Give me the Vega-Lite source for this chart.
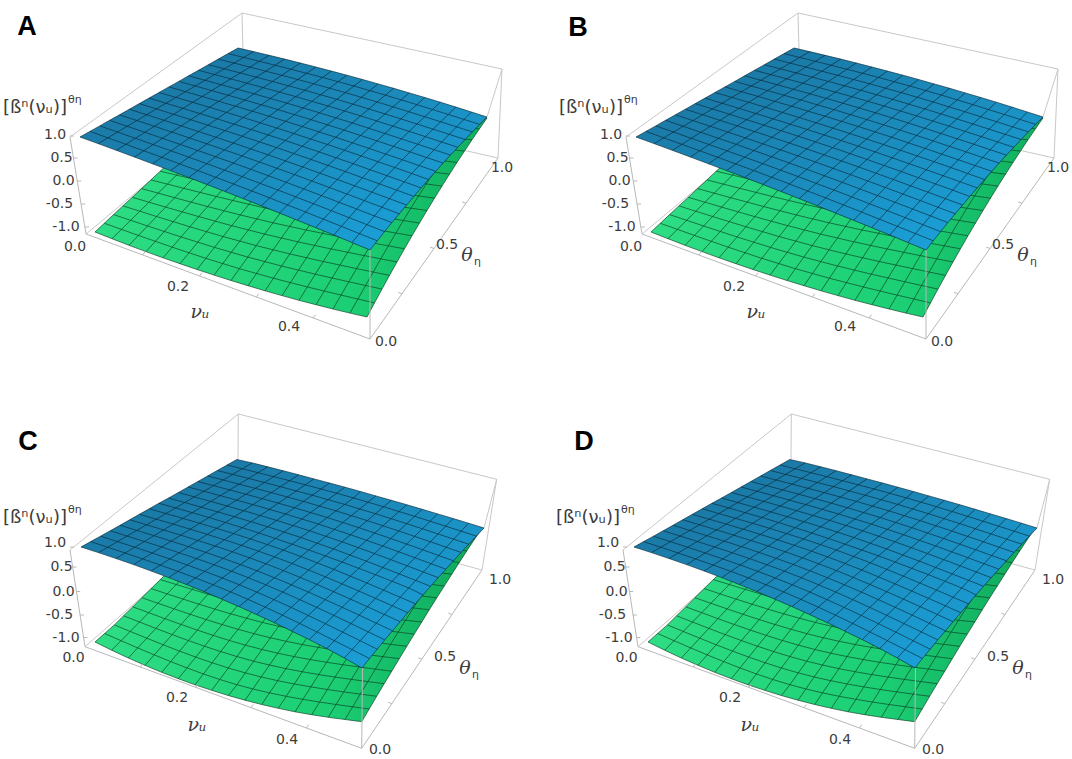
{
"$schema": "https://vega.github.io/schema/vega-lite/v6.json",
"padding": 0,
"spacing": 0,
"columns": 2,
"background": "#ffffff",
"config": {"view": {"stroke": null}},
"datasets": {
"blueAB": [
{"i":0,"j":0,"k":0,"x":80,"y":137},{"i":1,"j":0,"k":1,"x":98.1,"y":143.6},{"i":2,"j":0,"k":2,"x":116.3,"y":150.3},{"i":3,"j":0,"k":3,"x":134.4,"y":157},{"i":4,"j":0,"k":4,"x":152.5,"y":163.8},{"i":5,"j":0,"k":5,"x":170.6,"y":170.6},{"i":6,"j":0,"k":6,"x":188.8,"y":177.5},{"i":7,"j":0,"k":7,"x":206.9,"y":184.5},{"i":8,"j":0,"k":8,"x":225,"y":191.5},{"i":9,"j":0,"k":9,"x":243.1,"y":198.6},{"i":10,"j":0,"k":10,"x":261.3,"y":205.8},{"i":11,"j":0,"k":11,"x":279.4,"y":213},{"i":12,"j":0,"k":12,"x":297.5,"y":220.3},{"i":13,"j":0,"k":13,"x":315.6,"y":227.6},{"i":14,"j":0,"k":14,"x":333.8,"y":235},{"i":15,"j":0,"k":15,"x":351.9,"y":242.5},{"i":16,"j":0,"k":16,"x":370,"y":250},
{"i":16,"j":1,"k":17,"x":377.3,"y":240.8},{"i":16,"j":2,"k":18,"x":384.6,"y":231.6},{"i":16,"j":3,"k":19,"x":391.9,"y":222.6},{"i":16,"j":4,"k":20,"x":399.3,"y":213.8},{"i":16,"j":5,"k":21,"x":406.6,"y":205},{"i":16,"j":6,"k":22,"x":413.9,"y":196.4},{"i":16,"j":7,"k":23,"x":421.2,"y":187.9},{"i":16,"j":8,"k":24,"x":428.5,"y":179.5},{"i":16,"j":9,"k":25,"x":435.8,"y":171.3},{"i":16,"j":10,"k":26,"x":443.1,"y":163.1},{"i":16,"j":11,"k":27,"x":450.4,"y":155.1},{"i":16,"j":12,"k":28,"x":457.8,"y":147.3},{"i":16,"j":13,"k":29,"x":465.1,"y":139.5},{"i":16,"j":14,"k":30,"x":472.4,"y":131.9},{"i":16,"j":15,"k":31,"x":479.7,"y":124.4},{"i":16,"j":16,"k":32,"x":487,"y":117},
{"i":15,"j":16,"k":33,"x":471.4,"y":112},{"i":14,"j":16,"k":34,"x":455.9,"y":107.1},{"i":13,"j":16,"k":35,"x":440.3,"y":102.2},{"i":12,"j":16,"k":36,"x":424.8,"y":97.5},{"i":11,"j":16,"k":37,"x":409.2,"y":92.9},{"i":10,"j":16,"k":38,"x":393.6,"y":88.3},{"i":9,"j":16,"k":39,"x":378.1,"y":83.9},{"i":8,"j":16,"k":40,"x":362.5,"y":79.5},{"i":7,"j":16,"k":41,"x":346.9,"y":75.2},{"i":6,"j":16,"k":42,"x":331.4,"y":71.1},{"i":5,"j":16,"k":43,"x":315.8,"y":67},{"i":4,"j":16,"k":44,"x":300.3,"y":63},{"i":3,"j":16,"k":45,"x":284.7,"y":59.1},{"i":2,"j":16,"k":46,"x":269.1,"y":55.3},{"i":1,"j":16,"k":47,"x":253.6,"y":51.6},{"i":0,"j":16,"k":48,"x":238,"y":48},
{"i":0,"j":15,"k":49,"x":228.1,"y":53.6},{"i":0,"j":14,"k":50,"x":218.3,"y":59.1},{"i":0,"j":13,"k":51,"x":208.4,"y":64.7},{"i":0,"j":12,"k":52,"x":198.5,"y":70.3},{"i":0,"j":11,"k":53,"x":188.6,"y":75.8},{"i":0,"j":10,"k":54,"x":178.8,"y":81.4},{"i":0,"j":9,"k":55,"x":168.9,"y":86.9},{"i":0,"j":8,"k":56,"x":159,"y":92.5},{"i":0,"j":7,"k":57,"x":149.1,"y":98.1},{"i":0,"j":6,"k":58,"x":139.3,"y":103.6},{"i":0,"j":5,"k":59,"x":129.4,"y":109.2},{"i":0,"j":4,"k":60,"x":119.5,"y":114.8},{"i":0,"j":3,"k":61,"x":109.6,"y":120.3},{"i":0,"j":2,"k":62,"x":99.8,"y":125.9},{"i":0,"j":1,"k":63,"x":89.9,"y":131.4},
{"i":1,"j":8,"x":175.8,"y":97.4},{"i":2,"j":8,"x":192.7,"y":102.3},{"i":3,"j":8,"x":209.5,"y":107.3},{"i":4,"j":8,"x":226.4,"y":112.4},{"i":5,"j":8,"x":243.2,"y":117.5},{"i":6,"j":8,"x":260.1,"y":122.8},{"i":7,"j":8,"x":276.9,"y":128.1},{"i":8,"j":8,"x":293.8,"y":133.5},{"i":9,"j":8,"x":310.6,"y":139},{"i":10,"j":8,"x":327.4,"y":144.5},{"i":11,"j":8,"x":344.3,"y":150.2},{"i":12,"j":8,"x":361.1,"y":155.9},{"i":13,"j":8,"x":378,"y":161.7},{"i":14,"j":8,"x":394.8,"y":167.5},{"i":15,"j":8,"x":411.7,"y":173.5},
{"i":8,"j":1,"x":233.6,"y":184},{"i":8,"j":2,"x":242.2,"y":176.6},{"i":8,"j":3,"x":250.8,"y":169.3},{"i":8,"j":4,"x":259.4,"y":162},{"i":8,"j":5,"x":268,"y":154.8},{"i":8,"j":6,"x":276.6,"y":147.6},{"i":8,"j":7,"x":285.2,"y":140.5},{"i":8,"j":9,"x":302.3,"y":126.5},{"i":8,"j":10,"x":310.9,"y":119.6},{"i":8,"j":11,"x":319.5,"y":112.8},{"i":8,"j":12,"x":328.1,"y":106},{"i":8,"j":13,"x":336.7,"y":99.3},{"i":8,"j":14,"x":345.3,"y":92.6},{"i":8,"j":15,"x":353.9,"y":86}
],
"greenAB": [
{"i":0,"j":0,"k":0,"x":95,"y":232},{"i":1,"j":0,"k":1,"x":112,"y":238.7},{"i":2,"j":0,"k":2,"x":129,"y":245.3},{"i":3,"j":0,"k":3,"x":146,"y":251.6},{"i":4,"j":0,"k":4,"x":163,"y":257.8},{"i":5,"j":0,"k":5,"x":180,"y":263.7},{"i":6,"j":0,"k":6,"x":197,"y":269.5},{"i":7,"j":0,"k":7,"x":214,"y":275.1},{"i":8,"j":0,"k":8,"x":231,"y":280.5},{"i":9,"j":0,"k":9,"x":248,"y":285.7},{"i":10,"j":0,"k":10,"x":265,"y":290.8},{"i":11,"j":0,"k":11,"x":282,"y":295.6},{"i":12,"j":0,"k":12,"x":299,"y":300.3},{"i":13,"j":0,"k":13,"x":316,"y":304.7},{"i":14,"j":0,"k":14,"x":333,"y":309},{"i":15,"j":0,"k":15,"x":350,"y":313.1},{"i":16,"j":0,"k":16,"x":367,"y":317},
{"i":16,"j":1,"k":17,"x":374.5,"y":302.9},{"i":16,"j":2,"k":18,"x":382,"y":289.1},{"i":16,"j":3,"k":19,"x":389.5,"y":275.4},{"i":16,"j":4,"k":20,"x":397,"y":262},{"i":16,"j":5,"k":21,"x":404.5,"y":248.8},{"i":16,"j":6,"k":22,"x":412,"y":235.8},{"i":16,"j":7,"k":23,"x":419.5,"y":223.1},{"i":16,"j":8,"k":24,"x":427,"y":210.5},{"i":16,"j":9,"k":25,"x":434.5,"y":198.2},{"i":16,"j":10,"k":26,"x":442,"y":186.1},{"i":16,"j":11,"k":27,"x":449.5,"y":174.2},{"i":16,"j":12,"k":28,"x":457,"y":162.5},{"i":16,"j":13,"k":29,"x":464.5,"y":151.1},{"i":16,"j":14,"k":30,"x":472,"y":139.8},{"i":16,"j":15,"k":31,"x":479.5,"y":128.8},{"i":16,"j":16,"k":32,"x":487,"y":118},
{"i":15,"j":16,"k":33,"x":471.8,"y":116.4},{"i":14,"j":16,"k":34,"x":456.6,"y":114.9},{"i":13,"j":16,"k":35,"x":441.4,"y":113.3},{"i":12,"j":16,"k":36,"x":426.3,"y":111.8},{"i":11,"j":16,"k":37,"x":411.1,"y":110.2},{"i":10,"j":16,"k":38,"x":395.9,"y":108.6},{"i":9,"j":16,"k":39,"x":380.7,"y":107.1},{"i":8,"j":16,"k":40,"x":365.5,"y":105.5},{"i":7,"j":16,"k":41,"x":350.3,"y":103.9},{"i":6,"j":16,"k":42,"x":335.1,"y":102.4},{"i":5,"j":16,"k":43,"x":319.9,"y":100.8},{"i":4,"j":16,"k":44,"x":304.8,"y":99.3},{"i":3,"j":16,"k":45,"x":289.6,"y":97.7},{"i":2,"j":16,"k":46,"x":274.4,"y":96.1},{"i":1,"j":16,"k":47,"x":259.2,"y":94.6},{"i":0,"j":16,"k":48,"x":244,"y":93},
{"i":0,"j":15,"k":49,"x":234.7,"y":101.7},{"i":0,"j":14,"k":50,"x":225.4,"y":110.4},{"i":0,"j":13,"k":51,"x":216.1,"y":119.1},{"i":0,"j":12,"k":52,"x":206.8,"y":127.8},{"i":0,"j":11,"k":53,"x":197.4,"y":136.4},{"i":0,"j":10,"k":54,"x":188.1,"y":145.1},{"i":0,"j":9,"k":55,"x":178.8,"y":153.8},{"i":0,"j":8,"k":56,"x":169.5,"y":162.5},{"i":0,"j":7,"k":57,"x":160.2,"y":171.2},{"i":0,"j":6,"k":58,"x":150.9,"y":179.9},{"i":0,"j":5,"k":59,"x":141.6,"y":188.6},{"i":0,"j":4,"k":60,"x":132.3,"y":197.3},{"i":0,"j":3,"k":61,"x":122.9,"y":205.9},{"i":0,"j":2,"k":62,"x":113.6,"y":214.6},{"i":0,"j":1,"k":63,"x":104.3,"y":223.3},
{"i":1,"j":8,"x":185.6,"y":166.2},{"i":2,"j":8,"x":201.7,"y":169.8},{"i":3,"j":8,"x":217.8,"y":173.3},{"i":4,"j":8,"x":233.9,"y":176.8},{"i":5,"j":8,"x":250,"y":180.1},{"i":6,"j":8,"x":266.1,"y":183.3},{"i":7,"j":8,"x":282.2,"y":186.5},{"i":8,"j":8,"x":298.3,"y":189.5},{"i":9,"j":8,"x":314.3,"y":192.5},{"i":10,"j":8,"x":330.4,"y":195.3},{"i":11,"j":8,"x":346.5,"y":198.1},{"i":12,"j":8,"x":362.6,"y":200.8},{"i":13,"j":8,"x":378.7,"y":203.3},{"i":14,"j":8,"x":394.8,"y":205.8},{"i":15,"j":8,"x":410.9,"y":208.2},
{"i":8,"j":1,"x":239.4,"y":268.7},{"i":8,"j":2,"x":247.8,"y":257.1},{"i":8,"j":3,"x":256.2,"y":245.6},{"i":8,"j":4,"x":264.6,"y":234.1},{"i":8,"j":5,"x":273,"y":222.8},{"i":8,"j":6,"x":281.4,"y":211.6},{"i":8,"j":7,"x":289.8,"y":200.5},{"i":8,"j":9,"x":306.7,"y":178.6},{"i":8,"j":10,"x":315.1,"y":167.8},{"i":8,"j":11,"x":323.5,"y":157.2},{"i":8,"j":12,"x":331.9,"y":146.6},{"i":8,"j":13,"x":340.3,"y":136.2},{"i":8,"j":14,"x":348.7,"y":125.8},{"i":8,"j":15,"x":357.1,"y":115.6}
],
"blueCD": [
{"i":0,"j":0,"k":0,"x":81,"y":167},{"i":1,"j":0,"k":1,"x":98.5,"y":172.6},{"i":2,"j":0,"k":2,"x":116,"y":178.5},{"i":3,"j":0,"k":3,"x":133.6,"y":184.6},{"i":4,"j":0,"k":4,"x":151.2,"y":191},{"i":5,"j":0,"k":5,"x":168.7,"y":197.6},{"i":6,"j":0,"k":6,"x":186.3,"y":204.5},{"i":7,"j":0,"k":7,"x":203.9,"y":211.6},{"i":8,"j":0,"k":8,"x":221.4,"y":219},{"i":9,"j":0,"k":9,"x":239,"y":226.6},{"i":10,"j":0,"k":10,"x":256.5,"y":234.5},{"i":11,"j":0,"k":11,"x":274.1,"y":242.6},{"i":12,"j":0,"k":12,"x":291.6,"y":251},{"i":13,"j":0,"k":13,"x":309.2,"y":259.6},{"i":14,"j":0,"k":14,"x":326.8,"y":268.5},{"i":15,"j":0,"k":15,"x":344.3,"y":278},{"i":16,"j":0,"k":16,"x":362,"y":288},
{"i":16,"j":1,"k":17,"x":369.5,"y":278.5},{"i":16,"j":2,"k":18,"x":377.2,"y":269.2},{"i":16,"j":3,"k":19,"x":384.8,"y":259.9},{"i":16,"j":4,"k":20,"x":392.5,"y":250.8},{"i":16,"j":5,"k":21,"x":400.1,"y":241.7},{"i":16,"j":6,"k":22,"x":407.8,"y":232.7},{"i":16,"j":7,"k":23,"x":415.4,"y":223.8},{"i":16,"j":8,"k":24,"x":423,"y":215},{"i":16,"j":9,"k":25,"x":430.6,"y":206.3},{"i":16,"j":10,"k":26,"x":438.2,"y":197.7},{"i":16,"j":11,"k":27,"x":445.9,"y":189.2},{"i":16,"j":12,"k":28,"x":453.5,"y":180.8},{"i":16,"j":13,"k":29,"x":461.1,"y":172.4},{"i":16,"j":14,"k":30,"x":468.8,"y":164.2},{"i":16,"j":15,"k":31,"x":476.4,"y":156.1},{"i":16,"j":16,"k":32,"x":484,"y":148},
{"i":15,"j":16,"k":33,"x":468.5,"y":143.2},{"i":14,"j":16,"k":34,"x":453.1,"y":138.5},{"i":13,"j":16,"k":35,"x":437.6,"y":133.9},{"i":12,"j":16,"k":36,"x":422.2,"y":129.3},{"i":11,"j":16,"k":37,"x":406.7,"y":124.7},{"i":10,"j":16,"k":38,"x":391.3,"y":120.3},{"i":9,"j":16,"k":39,"x":375.8,"y":115.9},{"i":8,"j":16,"k":40,"x":360.4,"y":111.5},{"i":7,"j":16,"k":41,"x":344.9,"y":107.2},{"i":6,"j":16,"k":42,"x":329.5,"y":103},{"i":5,"j":16,"k":43,"x":314,"y":98.9},{"i":4,"j":16,"k":44,"x":298.6,"y":94.8},{"i":3,"j":16,"k":45,"x":283.1,"y":90.7},{"i":2,"j":16,"k":46,"x":267.7,"y":86.8},{"i":1,"j":16,"k":47,"x":252.2,"y":82.9},{"i":0,"j":16,"k":48,"x":236.8,"y":79.5},
{"i":0,"j":15,"k":49,"x":227.1,"y":85},{"i":0,"j":14,"k":50,"x":217.3,"y":90.5},{"i":0,"j":13,"k":51,"x":207.6,"y":96},{"i":0,"j":12,"k":52,"x":197.9,"y":101.5},{"i":0,"j":11,"k":53,"x":188.1,"y":107},{"i":0,"j":10,"k":54,"x":178.4,"y":112.5},{"i":0,"j":9,"k":55,"x":168.6,"y":118},{"i":0,"j":8,"k":56,"x":158.9,"y":123.3},{"i":0,"j":7,"k":57,"x":149.2,"y":128.8},{"i":0,"j":6,"k":58,"x":139.4,"y":134.3},{"i":0,"j":5,"k":59,"x":129.7,"y":139.8},{"i":0,"j":4,"k":60,"x":120,"y":145.3},{"i":0,"j":3,"k":61,"x":110.2,"y":150.8},{"i":0,"j":2,"k":62,"x":100.5,"y":156.2},{"i":0,"j":1,"k":63,"x":90.7,"y":161.6},
{"i":1,"j":8,"x":175.6,"y":127.9},{"i":2,"j":8,"x":192.2,"y":132.7},{"i":3,"j":8,"x":208.9,"y":137.5},{"i":4,"j":8,"x":225.5,"y":142.5},{"i":5,"j":8,"x":242.2,"y":147.7},{"i":6,"j":8,"x":258.8,"y":153},{"i":7,"j":8,"x":275.5,"y":158.5},{"i":8,"j":8,"x":292.1,"y":164.2},{"i":9,"j":8,"x":308.8,"y":170},{"i":10,"j":8,"x":325.4,"y":175.9},{"i":11,"j":8,"x":342.1,"y":182},{"i":12,"j":8,"x":358.7,"y":188.3},{"i":13,"j":8,"x":375.4,"y":194.7},{"i":14,"j":8,"x":392,"y":201.3},{"i":15,"j":8,"x":408.7,"y":208},
{"i":8,"j":1,"x":230.6,"y":211.9},{"i":8,"j":2,"x":239.4,"y":204.8},{"i":8,"j":3,"x":248.3,"y":197.7},{"i":8,"j":4,"x":257,"y":190.8},{"i":8,"j":5,"x":265.8,"y":183.8},{"i":8,"j":6,"x":274.6,"y":176.9},{"i":8,"j":7,"x":283.3,"y":170.1},{"i":8,"j":9,"x":300.9,"y":157.5},{"i":8,"j":10,"x":309.7,"y":150.8},{"i":8,"j":11,"x":318.4,"y":144.1},{"i":8,"j":12,"x":327.2,"y":137.5},{"i":8,"j":13,"x":336,"y":130.9},{"i":8,"j":14,"x":344.7,"y":124.4},{"i":8,"j":15,"x":353.4,"y":117.9}
],
"greenCD": [
{"i":0,"j":0,"k":0,"x":95,"y":262},{"i":1,"j":0,"k":1,"x":111.7,"y":270.2},{"i":2,"j":0,"k":2,"x":128.3,"y":278},{"i":3,"j":0,"k":3,"x":145,"y":285.3},{"i":4,"j":0,"k":4,"x":161.7,"y":292.3},{"i":5,"j":0,"k":5,"x":178.3,"y":298.7},{"i":6,"j":0,"k":6,"x":195,"y":304.8},{"i":7,"j":0,"k":7,"x":211.7,"y":310.3},{"i":8,"j":0,"k":8,"x":228.3,"y":315.5},{"i":9,"j":0,"k":9,"x":245,"y":320.2},{"i":10,"j":0,"k":10,"x":261.7,"y":324.5},{"i":11,"j":0,"k":11,"x":278.3,"y":328.3},{"i":12,"j":0,"k":12,"x":295,"y":331.8},{"i":13,"j":0,"k":13,"x":311.7,"y":334.7},{"i":14,"j":0,"k":14,"x":328.3,"y":337.3},{"i":15,"j":0,"k":15,"x":345,"y":339.5},{"i":16,"j":0,"k":16,"x":361.7,"y":341.7},
{"i":16,"j":1,"k":17,"x":369.2,"y":329},{"i":16,"j":2,"k":18,"x":376.7,"y":316.3},{"i":16,"j":3,"k":19,"x":384.2,"y":303.7},{"i":16,"j":4,"k":20,"x":391.8,"y":291.2},{"i":16,"j":5,"k":21,"x":399.3,"y":278.7},{"i":16,"j":6,"k":22,"x":406.8,"y":266.3},{"i":16,"j":7,"k":23,"x":414.3,"y":254.1},{"i":16,"j":8,"k":24,"x":421.8,"y":241.9},{"i":16,"j":9,"k":25,"x":429.3,"y":229.8},{"i":16,"j":10,"k":26,"x":436.8,"y":217.8},{"i":16,"j":11,"k":27,"x":444.3,"y":206},{"i":16,"j":12,"k":28,"x":451.8,"y":194.2},{"i":16,"j":13,"k":29,"x":459.3,"y":182.5},{"i":16,"j":14,"k":30,"x":466.8,"y":170.9},{"i":16,"j":15,"k":31,"x":474.4,"y":159.4},{"i":16,"j":16,"k":32,"x":482,"y":148.3},
{"i":15,"j":16,"k":33,"x":467.1,"y":146.2},{"i":14,"j":16,"k":34,"x":452.1,"y":144.3},{"i":13,"j":16,"k":35,"x":437.2,"y":142.4},{"i":12,"j":16,"k":36,"x":422.2,"y":140.5},{"i":11,"j":16,"k":37,"x":407.3,"y":138.6},{"i":10,"j":16,"k":38,"x":392.3,"y":136.8},{"i":9,"j":16,"k":39,"x":377.4,"y":134.9},{"i":8,"j":16,"k":40,"x":362.5,"y":133},{"i":7,"j":16,"k":41,"x":347.6,"y":131.1},{"i":6,"j":16,"k":42,"x":332.6,"y":129.3},{"i":5,"j":16,"k":43,"x":317.7,"y":127.4},{"i":4,"j":16,"k":44,"x":302.8,"y":125.5},{"i":3,"j":16,"k":45,"x":287.8,"y":123.6},{"i":2,"j":16,"k":46,"x":272.9,"y":121.8},{"i":1,"j":16,"k":47,"x":257.9,"y":119.9},{"i":0,"j":16,"k":48,"x":243,"y":118},
{"i":0,"j":15,"k":49,"x":233.8,"y":127.1},{"i":0,"j":14,"k":50,"x":224.6,"y":136.1},{"i":0,"j":13,"k":51,"x":215.4,"y":145.2},{"i":0,"j":12,"k":52,"x":206.3,"y":154.3},{"i":0,"j":11,"k":53,"x":197.1,"y":163.3},{"i":0,"j":10,"k":54,"x":187.9,"y":172.4},{"i":0,"j":9,"k":55,"x":178.7,"y":181.4},{"i":0,"j":8,"k":56,"x":169.5,"y":190.5},{"i":0,"j":7,"k":57,"x":160.3,"y":199.6},{"i":0,"j":6,"k":58,"x":151.1,"y":208.6},{"i":0,"j":5,"k":59,"x":141.9,"y":217.7},{"i":0,"j":4,"k":60,"x":132.8,"y":226.8},{"i":0,"j":3,"k":61,"x":123.6,"y":235.8},{"i":0,"j":2,"k":62,"x":114.4,"y":244.9},{"i":0,"j":1,"k":63,"x":104.6,"y":253.5},
{"i":1,"j":8,"x":185.2,"y":195.4},{"i":2,"j":8,"x":200.9,"y":200},{"i":3,"j":8,"x":216.6,"y":204.4},{"i":4,"j":8,"x":232.3,"y":208.6},{"i":5,"j":8,"x":248,"y":212.6},{"i":6,"j":8,"x":263.7,"y":216.4},{"i":7,"j":8,"x":279.4,"y":219.9},{"i":8,"j":8,"x":295.1,"y":223.3},{"i":9,"j":8,"x":310.8,"y":226.4},{"i":10,"j":8,"x":326.5,"y":229.3},{"i":11,"j":8,"x":342.2,"y":231.9},{"i":12,"j":8,"x":357.9,"y":234.4},{"i":13,"j":8,"x":373.6,"y":236.6},{"i":14,"j":8,"x":389.3,"y":238.6},{"i":15,"j":8,"x":405.5,"y":240.3},
{"i":8,"j":1,"x":236.9,"y":304.7},{"i":8,"j":2,"x":245.3,"y":292.9},{"i":8,"j":3,"x":253.7,"y":281.2},{"i":8,"j":4,"x":262,"y":269.5},{"i":8,"j":5,"x":270.4,"y":257.8},{"i":8,"j":6,"x":278.7,"y":246.3},{"i":8,"j":7,"x":286.9,"y":234.7},{"i":8,"j":9,"x":303.6,"y":211.8},{"i":8,"j":10,"x":311.9,"y":200.4},{"i":8,"j":11,"x":320.2,"y":189.1},{"i":8,"j":12,"x":328.6,"y":177.8},{"i":8,"j":13,"x":336.9,"y":166.5},{"i":8,"j":14,"x":345.3,"y":155.3},{"i":8,"j":15,"x":353.7,"y":144.1}
],
"boxAB": [
{"p":"back","x":242,"y":13,"x2":502,"y2":69},{"p":"back","x":242,"y":13,"x2":70,"y2":137},{"p":"back","x":242,"y":13,"x2":243,"y2":50},{"p":"back","x":502,"y":69,"x2":498,"y2":158},{"p":"back","x":502,"y":69,"x2":487,"y2":117},{"p":"back","x":498,"y":158,"x2":246,"y2":101},{"p":"back","x":246,"y":101,"x2":86,"y2":234},
{"p":"front","x":70,"y":137,"x2":86,"y2":234},{"p":"front","x":86,"y":234,"x2":370,"y2":339},{"p":"front","x":370,"y":339,"x2":498,"y2":158},{"p":"front","x":370,"y":339,"x2":370,"y2":250},
{"p":"front","x":69.8,"y":136,"x2":73.8,"y2":136},{"p":"front","x":73.5,"y":158,"x2":77.5,"y2":158},{"p":"front","x":77.3,"y":181,"x2":81.3,"y2":181},{"p":"front","x":81.1,"y":204,"x2":85.1,"y2":204},{"p":"front","x":84.8,"y":227,"x2":88.8,"y2":227},
{"p":"front","x":142.8,"y":255,"x2":145.1,"y2":251.7},{"p":"front","x":199.6,"y":276,"x2":201.9,"y2":272.7},{"p":"front","x":256.4,"y":297,"x2":258.7,"y2":293.7},{"p":"front","x":313.2,"y":318,"x2":315.5,"y2":314.7},
{"p":"front","x":402,"y":293.8,"x2":398.2,"y2":292.4},{"p":"front","x":434,"y":248.5,"x2":430.2,"y2":247.1},{"p":"front","x":466,"y":203.3,"x2":462.2,"y2":201.9}
],
"boxCD": [
{"p":"back","x":238.3,"y":34,"x2":496.7,"y2":99.3},{"p":"back","x":238.3,"y":34,"x2":70,"y2":170},{"p":"back","x":238.3,"y":34,"x2":238,"y2":80},{"p":"back","x":496.7,"y":99.3,"x2":482,"y2":190},{"p":"back","x":496.7,"y":99.3,"x2":484,"y2":148},{"p":"back","x":482,"y":190,"x2":246,"y2":126},{"p":"back","x":246,"y":126,"x2":85,"y2":266.7},
{"p":"front","x":70,"y":170,"x2":85,"y2":266.7},{"p":"front","x":85,"y":266.7,"x2":361.7,"y2":368.3},{"p":"front","x":361.7,"y":368.3,"x2":482,"y2":190},{"p":"front","x":361.7,"y":368.3,"x2":362.5,"y2":288},
{"p":"front","x":70,"y":167,"x2":74,"y2":167},{"p":"front","x":72.5,"y":187,"x2":76.5,"y2":187},{"p":"front","x":76.2,"y":211.5,"x2":80.2,"y2":211.5},{"p":"front","x":79.8,"y":235,"x2":83.8,"y2":235},{"p":"front","x":83.3,"y":257.5,"x2":87.3,"y2":257.5},
{"p":"front","x":140.3,"y":287,"x2":142.6,"y2":283.7},{"p":"front","x":195.7,"y":307.4,"x2":198,"y2":304.1},{"p":"front","x":251,"y":327.7,"x2":253.3,"y2":324.4},{"p":"front","x":306.4,"y":348,"x2":308.7,"y2":344.7},
{"p":"front","x":391.8,"y":323.7,"x2":388.1,"y2":322.3},{"p":"front","x":421.9,"y":279.2,"x2":418.2,"y2":277.8},{"p":"front","x":452,"y":234.6,"x2":448.3,"y2":233.2}
],
"textAB": [
{"r":"t","x":55,"y":135,"t":"1.0"},{"r":"t","x":61.5,"y":158,"t":"0.5"},{"r":"t","x":63.5,"y":181,"t":"0.0"},{"r":"t","x":59.5,"y":204,"t":"-0.5"},{"r":"t","x":66,"y":227,"t":"-1.0"},
{"r":"t","x":75,"y":247,"t":"0.0"},{"r":"t","x":178,"y":287,"t":"0.2"},{"r":"t","x":289,"y":327,"t":"0.4"},
{"r":"t","x":386,"y":342,"t":"0.0"},{"r":"t","x":447,"y":245,"t":"0.5"},{"r":"t","x":502,"y":168,"t":"1.0"},
{"r":"ttl","x":3,"y":108,"t":"[ßⁿ(νᵤ)]"},{"r":"sm","x":68,"y":100,"t":"θη"},
{"r":"it","x":200,"y":312,"t":"νᵤ"},{"r":"it","x":467,"y":255,"t":"θ"},{"r":"sm","x":474,"y":262,"t":"η"}
],
"textCD": [
{"r":"t","x":55,"y":163,"t":"1.0"},{"r":"t","x":61.5,"y":187,"t":"0.5"},{"r":"t","x":63.5,"y":211.5,"t":"0.0"},{"r":"t","x":59.5,"y":235,"t":"-0.5"},{"r":"t","x":66,"y":257.5,"t":"-1.0"},
{"r":"t","x":73.5,"y":278,"t":"0.0"},{"r":"t","x":177,"y":318,"t":"0.2"},{"r":"t","x":287,"y":360,"t":"0.4"},
{"r":"t","x":380,"y":370,"t":"0.0"},{"r":"t","x":445,"y":277,"t":"0.5"},{"r":"t","x":500,"y":200,"t":"1.0"},
{"r":"ttl","x":3,"y":138,"t":"[ßⁿ(νᵤ)]"},{"r":"sm","x":68,"y":130,"t":"θη"},
{"r":"it","x":197,"y":345,"t":"νᵤ"},{"r":"it","x":465,"y":288,"t":"θ"},{"r":"sm","x":472,"y":295,"t":"η"}
]
},
"concat": [
{
"width": 536, "height": 380,
"encoding": {
"x": {"field": "x", "type": "quantitative", "axis": null, "scale": {"domain": [0, 536], "nice": false, "zero": false}},
"y": {"field": "y", "type": "quantitative", "axis": null, "scale": {"domain": [0, 380], "nice": false, "zero": false, "reverse": true}}
},
"layer": [
{"data": {"name": "boxAB"}, "transform": [{"filter": "datum.p == 'back'"}], "mark": {"type": "rule", "color": "#c8c8c8", "strokeWidth": 1}, "encoding": {"x2": {"field": "x2"}, "y2": {"field": "y2"}}},
{"data": {"name": "greenAB"}, "transform": [{"filter": "isValid(datum.k)"}], "mark": {"type": "line", "fill": {"gradient": "linear", "x1": 0, "y1": 0, "x2": 1, "y2": 0, "stops": [{"offset": 0, "color": "#2edd84"}, {"offset": 0.65, "color": "#1ccf74"}, {"offset": 1, "color": "#0fae5e"}]}, "strokeOpacity": 0}, "encoding": {"order": {"field": "k", "type": "quantitative"}}},
{"data": {"name": "greenAB"}, "mark": {"type": "line", "interpolate": "natural", "color": "#0a3a1f", "strokeWidth": 0.75, "strokeOpacity": 0.85}, "encoding": {"detail": {"field": "i", "type": "nominal"}, "order": {"field": "j", "type": "quantitative"}}},
{"data": {"name": "greenAB"}, "mark": {"type": "line", "interpolate": "natural", "color": "#0a3a1f", "strokeWidth": 0.75, "strokeOpacity": 0.85}, "encoding": {"detail": {"field": "j", "type": "nominal"}, "order": {"field": "i", "type": "quantitative"}}},
{"data": {"name": "blueAB"}, "transform": [{"filter": "isValid(datum.k)"}], "mark": {"type": "line", "fill": {"gradient": "linear", "x1": 0, "y1": 0, "x2": 1, "y2": 1, "stops": [{"offset": 0, "color": "#1a6f9a"}, {"offset": 0.5, "color": "#1b8abb"}, {"offset": 1, "color": "#1aa8e2"}]}, "strokeOpacity": 0}, "encoding": {"order": {"field": "k", "type": "quantitative"}}},
{"data": {"name": "blueAB"}, "mark": {"type": "line", "interpolate": "natural", "color": "#082634", "strokeWidth": 0.75, "strokeOpacity": 0.85}, "encoding": {"detail": {"field": "i", "type": "nominal"}, "order": {"field": "j", "type": "quantitative"}}},
{"data": {"name": "blueAB"}, "mark": {"type": "line", "interpolate": "natural", "color": "#082634", "strokeWidth": 0.75, "strokeOpacity": 0.85}, "encoding": {"detail": {"field": "j", "type": "nominal"}, "order": {"field": "i", "type": "quantitative"}}},
{"data": {"name": "boxAB"}, "transform": [{"filter": "datum.p == 'front'"}], "mark": {"type": "rule", "color": "#b8b8b8", "strokeWidth": 1}, "encoding": {"x2": {"field": "x2"}, "y2": {"field": "y2"}}},
{"data": {"name": "textAB"}, "transform": [{"filter": "datum.r == 't'"}], "mark": {"type": "text", "font": "DejaVu Sans", "fontSize": 14, "color": "#3c3c3c"}, "encoding": {"text": {"field": "t"}}},
{"data": {"name": "textAB"}, "transform": [{"filter": "datum.r == 'ttl'"}], "mark": {"type": "text", "font": "DejaVu Sans", "fontSize": 18, "align": "left", "color": "#3c3c3c"}, "encoding": {"text": {"field": "t"}}},
{"data": {"name": "textAB"}, "transform": [{"filter": "datum.r == 'sm'"}], "mark": {"type": "text", "font": "DejaVu Sans", "fontSize": 11, "align": "left", "color": "#3c3c3c"}, "encoding": {"text": {"field": "t"}}},
{"data": {"name": "textAB"}, "transform": [{"filter": "datum.r == 'it'"}], "mark": {"type": "text", "font": "DejaVu Serif", "fontStyle": "italic", "fontSize": 19, "color": "#3c3c3c"}, "encoding": {"text": {"field": "t"}}},
{"data": {"values": [{"x": 27, "y": 27, "t": "A"}]}, "mark": {"type": "text", "font": "Liberation Sans", "fontWeight": "bold", "fontSize": 27, "color": "#000000"}, "encoding": {"text": {"field": "t"}}}
]
},
{
"width": 536, "height": 380,
"encoding": {
"x": {"field": "x", "type": "quantitative", "axis": null, "scale": {"domain": [-20, 516], "nice": false, "zero": false}},
"y": {"field": "y", "type": "quantitative", "axis": null, "scale": {"domain": [0, 380], "nice": false, "zero": false, "reverse": true}}
},
"layer": [
{"data": {"name": "boxAB"}, "transform": [{"filter": "datum.p == 'back'"}], "mark": {"type": "rule", "color": "#c8c8c8", "strokeWidth": 1}, "encoding": {"x2": {"field": "x2"}, "y2": {"field": "y2"}}},
{"data": {"name": "greenAB"}, "transform": [{"filter": "isValid(datum.k)"}], "mark": {"type": "line", "fill": {"gradient": "linear", "x1": 0, "y1": 0, "x2": 1, "y2": 0, "stops": [{"offset": 0, "color": "#2edd84"}, {"offset": 0.65, "color": "#1ccf74"}, {"offset": 1, "color": "#0fae5e"}]}, "strokeOpacity": 0}, "encoding": {"order": {"field": "k", "type": "quantitative"}}},
{"data": {"name": "greenAB"}, "mark": {"type": "line", "interpolate": "natural", "color": "#0a3a1f", "strokeWidth": 0.75, "strokeOpacity": 0.85}, "encoding": {"detail": {"field": "i", "type": "nominal"}, "order": {"field": "j", "type": "quantitative"}}},
{"data": {"name": "greenAB"}, "mark": {"type": "line", "interpolate": "natural", "color": "#0a3a1f", "strokeWidth": 0.75, "strokeOpacity": 0.85}, "encoding": {"detail": {"field": "j", "type": "nominal"}, "order": {"field": "i", "type": "quantitative"}}},
{"data": {"name": "blueAB"}, "transform": [{"filter": "isValid(datum.k)"}], "mark": {"type": "line", "fill": {"gradient": "linear", "x1": 0, "y1": 0, "x2": 1, "y2": 1, "stops": [{"offset": 0, "color": "#1a6f9a"}, {"offset": 0.5, "color": "#1b8abb"}, {"offset": 1, "color": "#1aa8e2"}]}, "strokeOpacity": 0}, "encoding": {"order": {"field": "k", "type": "quantitative"}}},
{"data": {"name": "blueAB"}, "mark": {"type": "line", "interpolate": "natural", "color": "#082634", "strokeWidth": 0.75, "strokeOpacity": 0.85}, "encoding": {"detail": {"field": "i", "type": "nominal"}, "order": {"field": "j", "type": "quantitative"}}},
{"data": {"name": "blueAB"}, "mark": {"type": "line", "interpolate": "natural", "color": "#082634", "strokeWidth": 0.75, "strokeOpacity": 0.85}, "encoding": {"detail": {"field": "j", "type": "nominal"}, "order": {"field": "i", "type": "quantitative"}}},
{"data": {"name": "boxAB"}, "transform": [{"filter": "datum.p == 'front'"}], "mark": {"type": "rule", "color": "#b8b8b8", "strokeWidth": 1}, "encoding": {"x2": {"field": "x2"}, "y2": {"field": "y2"}}},
{"data": {"name": "textAB"}, "transform": [{"filter": "datum.r == 't'"}], "mark": {"type": "text", "font": "DejaVu Sans", "fontSize": 14, "color": "#3c3c3c"}, "encoding": {"text": {"field": "t"}}},
{"data": {"name": "textAB"}, "transform": [{"filter": "datum.r == 'ttl'"}], "mark": {"type": "text", "font": "DejaVu Sans", "fontSize": 18, "align": "left", "color": "#3c3c3c"}, "encoding": {"text": {"field": "t"}}},
{"data": {"name": "textAB"}, "transform": [{"filter": "datum.r == 'sm'"}], "mark": {"type": "text", "font": "DejaVu Sans", "fontSize": 11, "align": "left", "color": "#3c3c3c"}, "encoding": {"text": {"field": "t"}}},
{"data": {"name": "textAB"}, "transform": [{"filter": "datum.r == 'it'"}], "mark": {"type": "text", "font": "DejaVu Serif", "fontStyle": "italic", "fontSize": 19, "color": "#3c3c3c"}, "encoding": {"text": {"field": "t"}}},
{"data": {"values": [{"x": 22, "y": 28, "t": "B"}]}, "mark": {"type": "text", "font": "Liberation Sans", "fontWeight": "bold", "fontSize": 27, "color": "#000000"}, "encoding": {"text": {"field": "t"}}}
]
},
{
"width": 536, "height": 380,
"encoding": {
"x": {"field": "x", "type": "quantitative", "axis": null, "scale": {"domain": [0, 536], "nice": false, "zero": false}},
"y": {"field": "y", "type": "quantitative", "axis": null, "scale": {"domain": [0, 380], "nice": false, "zero": false, "reverse": true}}
},
"layer": [
{"data": {"name": "boxCD"}, "transform": [{"filter": "datum.p == 'back'"}], "mark": {"type": "rule", "color": "#c8c8c8", "strokeWidth": 1}, "encoding": {"x2": {"field": "x2"}, "y2": {"field": "y2"}}},
{"data": {"name": "greenCD"}, "transform": [{"filter": "isValid(datum.k)"}], "mark": {"type": "line", "fill": {"gradient": "linear", "x1": 0, "y1": 0, "x2": 1, "y2": 0, "stops": [{"offset": 0, "color": "#2edd84"}, {"offset": 0.6, "color": "#1ccf74"}, {"offset": 1, "color": "#0ea65a"}]}, "strokeOpacity": 0}, "encoding": {"order": {"field": "k", "type": "quantitative"}}},
{"data": {"name": "greenCD"}, "mark": {"type": "line", "interpolate": "natural", "color": "#0a3a1f", "strokeWidth": 0.75, "strokeOpacity": 0.85}, "encoding": {"detail": {"field": "i", "type": "nominal"}, "order": {"field": "j", "type": "quantitative"}}},
{"data": {"name": "greenCD"}, "mark": {"type": "line", "interpolate": "natural", "color": "#0a3a1f", "strokeWidth": 0.75, "strokeOpacity": 0.85}, "encoding": {"detail": {"field": "j", "type": "nominal"}, "order": {"field": "i", "type": "quantitative"}}},
{"data": {"name": "blueCD"}, "transform": [{"filter": "isValid(datum.k)"}], "mark": {"type": "line", "fill": {"gradient": "linear", "x1": 0, "y1": 0, "x2": 1, "y2": 1, "stops": [{"offset": 0, "color": "#1a6f9a"}, {"offset": 0.5, "color": "#1b8abb"}, {"offset": 1, "color": "#1aa8e2"}]}, "strokeOpacity": 0}, "encoding": {"order": {"field": "k", "type": "quantitative"}}},
{"data": {"name": "blueCD"}, "mark": {"type": "line", "interpolate": "natural", "color": "#082634", "strokeWidth": 0.75, "strokeOpacity": 0.85}, "encoding": {"detail": {"field": "i", "type": "nominal"}, "order": {"field": "j", "type": "quantitative"}}},
{"data": {"name": "blueCD"}, "mark": {"type": "line", "interpolate": "natural", "color": "#082634", "strokeWidth": 0.75, "strokeOpacity": 0.85}, "encoding": {"detail": {"field": "j", "type": "nominal"}, "order": {"field": "i", "type": "quantitative"}}},
{"data": {"name": "boxCD"}, "transform": [{"filter": "datum.p == 'front'"}], "mark": {"type": "rule", "color": "#b8b8b8", "strokeWidth": 1}, "encoding": {"x2": {"field": "x2"}, "y2": {"field": "y2"}}},
{"data": {"name": "textCD"}, "transform": [{"filter": "datum.r == 't'"}], "mark": {"type": "text", "font": "DejaVu Sans", "fontSize": 14, "color": "#3c3c3c"}, "encoding": {"text": {"field": "t"}}},
{"data": {"name": "textCD"}, "transform": [{"filter": "datum.r == 'ttl'"}], "mark": {"type": "text", "font": "DejaVu Sans", "fontSize": 18, "align": "left", "color": "#3c3c3c"}, "encoding": {"text": {"field": "t"}}},
{"data": {"name": "textCD"}, "transform": [{"filter": "datum.r == 'sm'"}], "mark": {"type": "text", "font": "DejaVu Sans", "fontSize": 11, "align": "left", "color": "#3c3c3c"}, "encoding": {"text": {"field": "t"}}},
{"data": {"name": "textCD"}, "transform": [{"filter": "datum.r == 'it'"}], "mark": {"type": "text", "font": "DejaVu Serif", "fontStyle": "italic", "fontSize": 19, "color": "#3c3c3c"}, "encoding": {"text": {"field": "t"}}},
{"data": {"values": [{"x": 28, "y": 62, "t": "C"}]}, "mark": {"type": "text", "font": "Liberation Sans", "fontWeight": "bold", "fontSize": 27, "color": "#000000"}, "encoding": {"text": {"field": "t"}}}
]
},
{
"width": 536, "height": 380,
"encoding": {
"x": {"field": "x", "type": "quantitative", "axis": null, "scale": {"domain": [-17, 519], "nice": false, "zero": false}},
"y": {"field": "y", "type": "quantitative", "axis": null, "scale": {"domain": [0, 380], "nice": false, "zero": false, "reverse": true}}
},
"layer": [
{"data": {"name": "boxCD"}, "transform": [{"filter": "datum.p == 'back'"}], "mark": {"type": "rule", "color": "#c8c8c8", "strokeWidth": 1}, "encoding": {"x2": {"field": "x2"}, "y2": {"field": "y2"}}},
{"data": {"name": "greenCD"}, "transform": [{"filter": "isValid(datum.k)"}], "mark": {"type": "line", "fill": {"gradient": "linear", "x1": 0, "y1": 0, "x2": 1, "y2": 0, "stops": [{"offset": 0, "color": "#2edd84"}, {"offset": 0.6, "color": "#1ccf74"}, {"offset": 1, "color": "#0ea65a"}]}, "strokeOpacity": 0}, "encoding": {"order": {"field": "k", "type": "quantitative"}}},
{"data": {"name": "greenCD"}, "mark": {"type": "line", "interpolate": "natural", "color": "#0a3a1f", "strokeWidth": 0.75, "strokeOpacity": 0.85}, "encoding": {"detail": {"field": "i", "type": "nominal"}, "order": {"field": "j", "type": "quantitative"}}},
{"data": {"name": "greenCD"}, "mark": {"type": "line", "interpolate": "natural", "color": "#0a3a1f", "strokeWidth": 0.75, "strokeOpacity": 0.85}, "encoding": {"detail": {"field": "j", "type": "nominal"}, "order": {"field": "i", "type": "quantitative"}}},
{"data": {"name": "blueCD"}, "transform": [{"filter": "isValid(datum.k)"}], "mark": {"type": "line", "fill": {"gradient": "linear", "x1": 0, "y1": 0, "x2": 1, "y2": 1, "stops": [{"offset": 0, "color": "#1a6f9a"}, {"offset": 0.5, "color": "#1b8abb"}, {"offset": 1, "color": "#1aa8e2"}]}, "strokeOpacity": 0}, "encoding": {"order": {"field": "k", "type": "quantitative"}}},
{"data": {"name": "blueCD"}, "mark": {"type": "line", "interpolate": "natural", "color": "#082634", "strokeWidth": 0.75, "strokeOpacity": 0.85}, "encoding": {"detail": {"field": "i", "type": "nominal"}, "order": {"field": "j", "type": "quantitative"}}},
{"data": {"name": "blueCD"}, "mark": {"type": "line", "interpolate": "natural", "color": "#082634", "strokeWidth": 0.75, "strokeOpacity": 0.85}, "encoding": {"detail": {"field": "j", "type": "nominal"}, "order": {"field": "i", "type": "quantitative"}}},
{"data": {"name": "boxCD"}, "transform": [{"filter": "datum.p == 'front'"}], "mark": {"type": "rule", "color": "#b8b8b8", "strokeWidth": 1}, "encoding": {"x2": {"field": "x2"}, "y2": {"field": "y2"}}},
{"data": {"name": "textCD"}, "transform": [{"filter": "datum.r == 't'"}], "mark": {"type": "text", "font": "DejaVu Sans", "fontSize": 14, "color": "#3c3c3c"}, "encoding": {"text": {"field": "t"}}},
{"data": {"name": "textCD"}, "transform": [{"filter": "datum.r == 'ttl'"}], "mark": {"type": "text", "font": "DejaVu Sans", "fontSize": 18, "align": "left", "color": "#3c3c3c"}, "encoding": {"text": {"field": "t"}}},
{"data": {"name": "textCD"}, "transform": [{"filter": "datum.r == 'sm'"}], "mark": {"type": "text", "font": "DejaVu Sans", "fontSize": 11, "align": "left", "color": "#3c3c3c"}, "encoding": {"text": {"field": "t"}}},
{"data": {"name": "textCD"}, "transform": [{"filter": "datum.r == 'it'"}], "mark": {"type": "text", "font": "DejaVu Serif", "fontStyle": "italic", "fontSize": 19, "color": "#3c3c3c"}, "encoding": {"text": {"field": "t"}}},
{"data": {"values": [{"x": 31, "y": 62, "t": "D"}]}, "mark": {"type": "text", "font": "Liberation Sans", "fontWeight": "bold", "fontSize": 27, "color": "#000000"}, "encoding": {"text": {"field": "t"}}}
]
}
]
}
